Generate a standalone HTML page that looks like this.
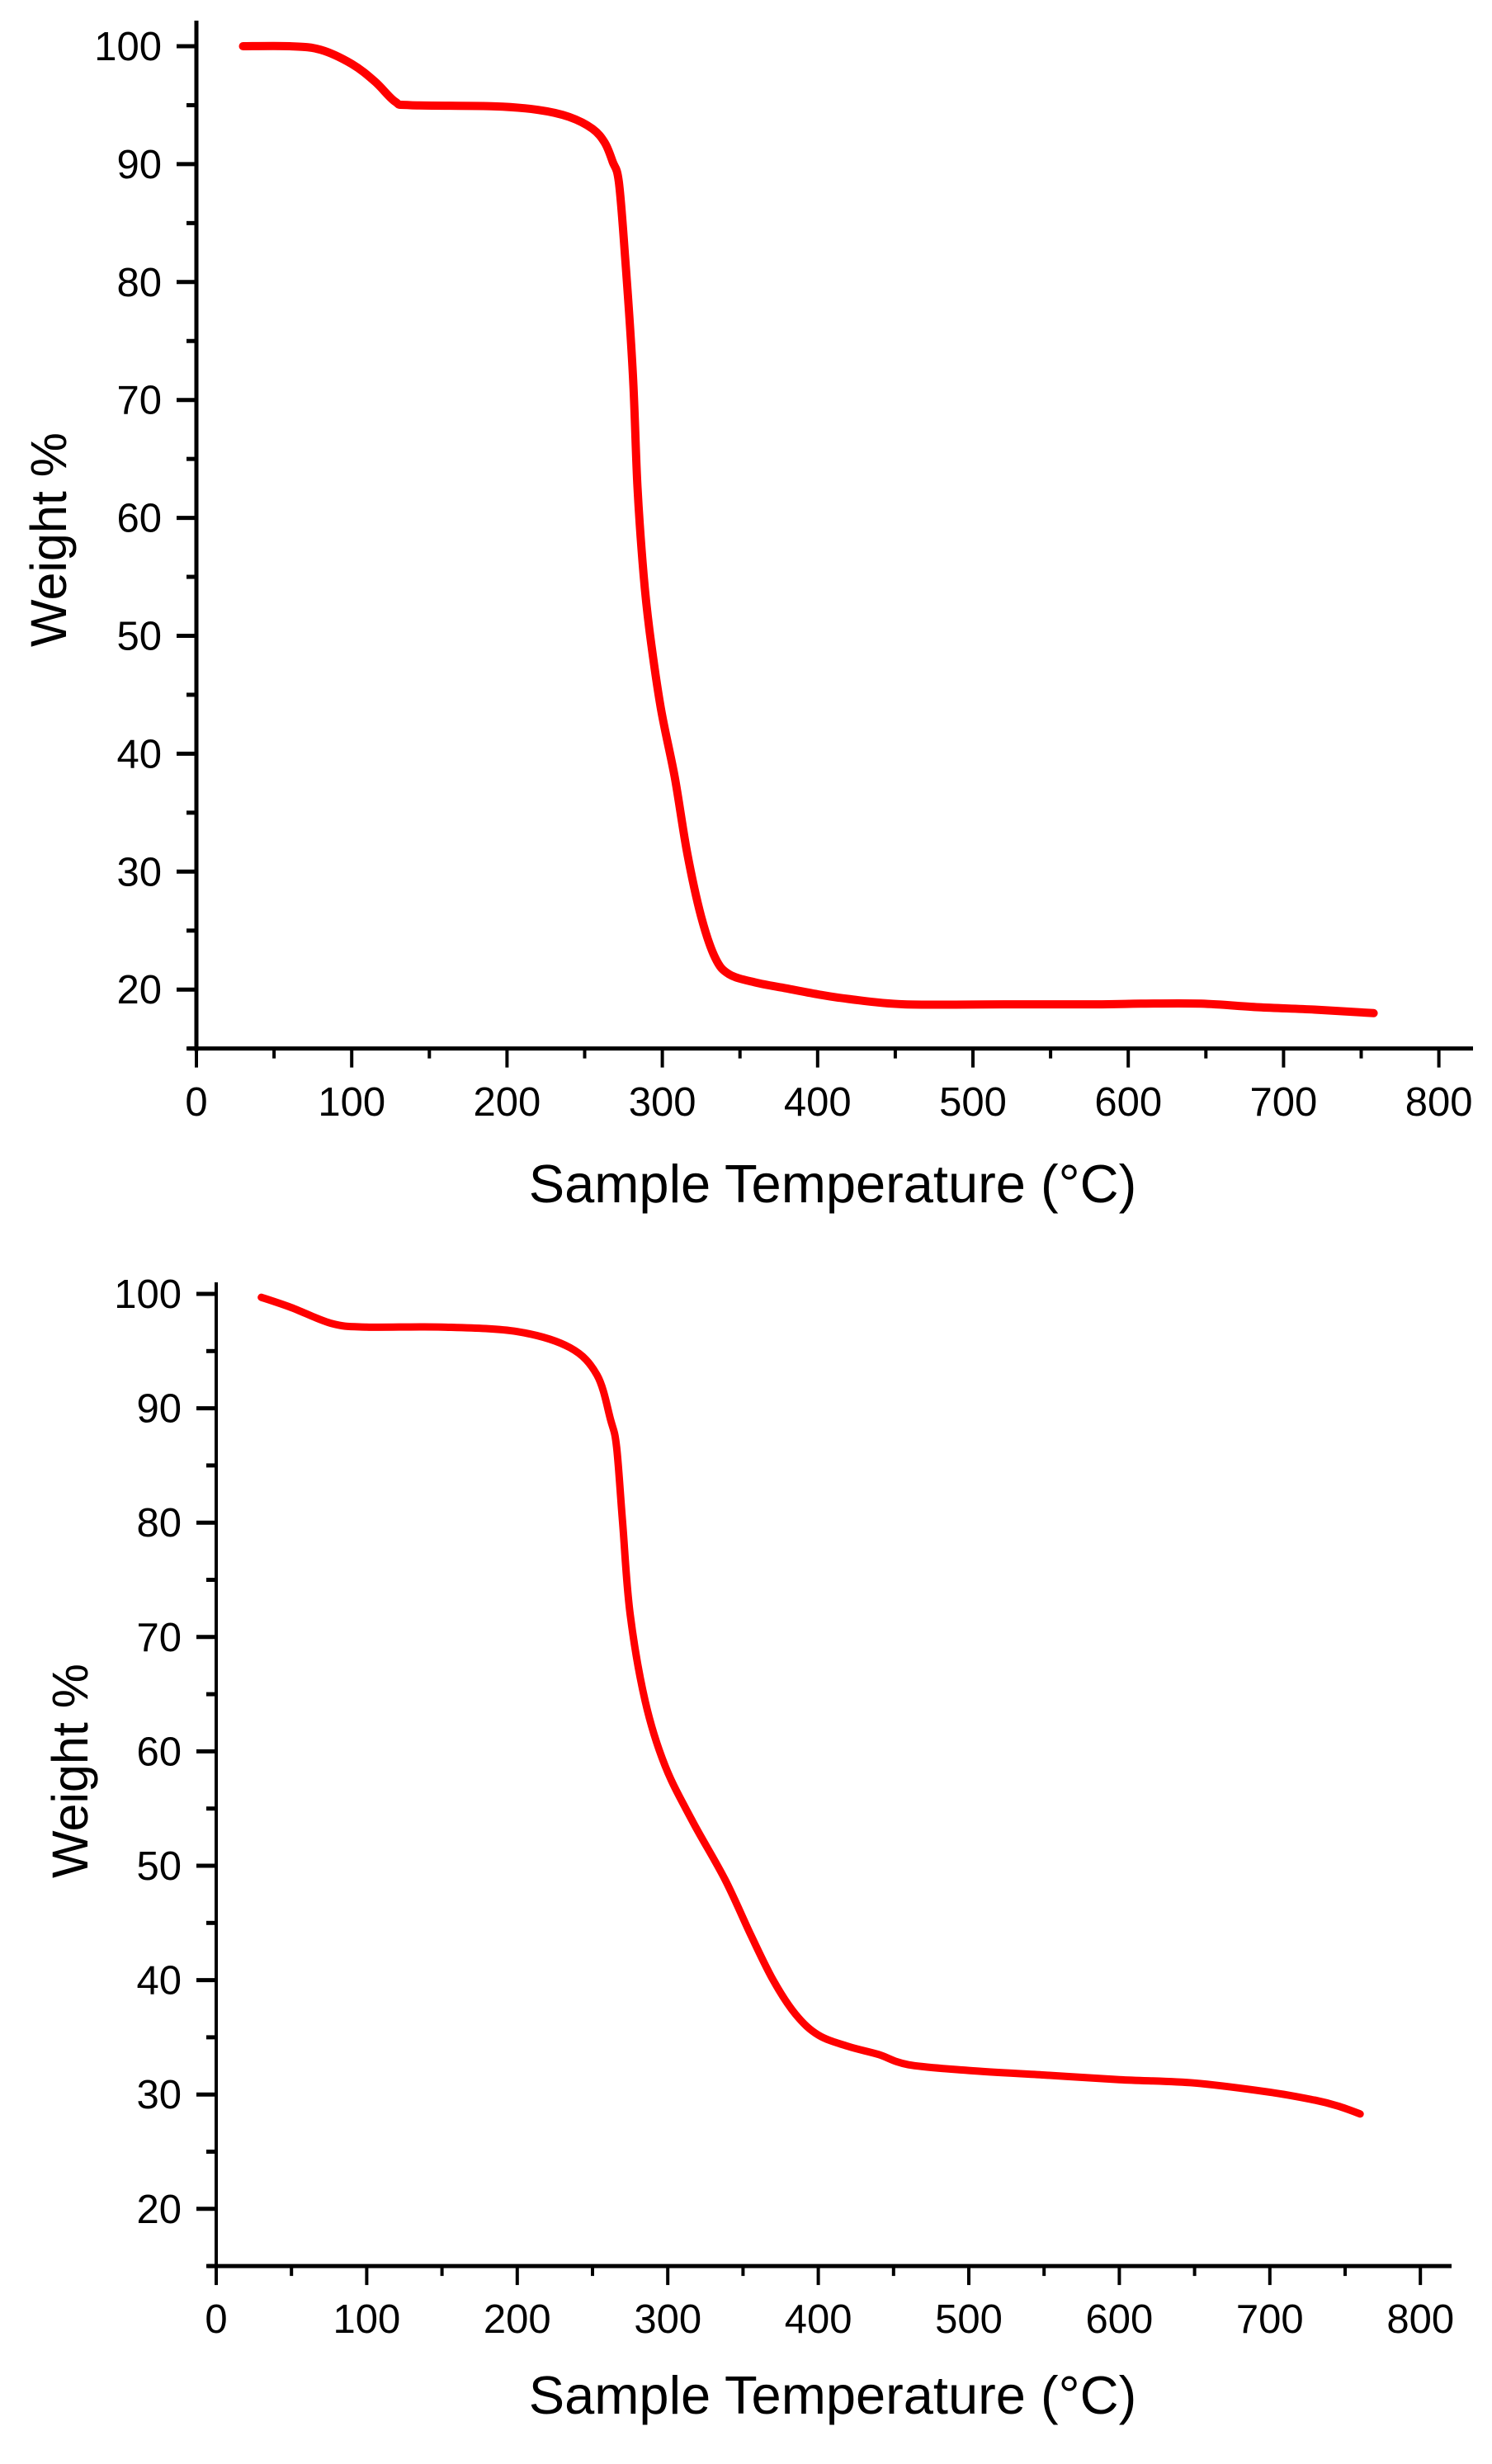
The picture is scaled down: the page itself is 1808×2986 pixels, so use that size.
<!DOCTYPE html>
<html><head><meta charset="utf-8"><style>
html,body{margin:0;padding:0;background:#fff;}
svg{display:block;font-family:"Liberation Sans",Arial,sans-serif;}
</style></head><body>
<svg id="svg" width="1808" height="2986" viewBox="0 0 1808 2986" xmlns="http://www.w3.org/2000/svg">
<rect width="1808" height="2986" fill="#fff"/>
<g id="c1"></g>
<g id="c2"></g>
</svg>
<script>
const xTicks = [0,100,200,300,400,500,600,700,800];
const yTicks = [20,30,40,50,60,70,80,90,100];
const topTemp = [30,60,80,100,115,128,138,192,220,240,255,263,268,272,276,281,284,288,292,299,308,316,325,334,343,360,380,400,420,456,520,583,608,647,684,720,758];
const topWeight = [100,100,99.7,98.5,97,95.3,95,94.9,94.6,94.0,93.0,91.8,90.2,88.5,82.2,72.3,62.6,55.1,50.2,43.9,38,31.6,26.2,22.7,21.3,20.6,20.1,19.6,19.2,18.75,18.75,18.75,18.8,18.8,18.5,18.3,18.0];
const botTemp = [30,50,77,100,150,200,235,253,262,266,270,275,285,298,316,338,355,370,385,400,420,440,460,500,550,600,650,700,730,745,760];
const botWeight = [99.7,98.8,97.4,97.1,97.1,96.7,95.3,92.9,89,86.6,80,72,64.4,58.8,54,48.8,44,40,37,35.2,34.2,33.5,32.6,32.1,31.7,31.3,31,30.2,29.5,29,28.3];

const NS="http://www.w3.org/2000/svg";
function mk(parent,tag,attrs){const e=document.createElementNS(NS,tag);for(const k in attrs)e.setAttribute(k,attrs[k]);parent.appendChild(e);return e;}

function smoothPath(pts){
  let d='M'+pts[0][0].toFixed(1)+','+pts[0][1].toFixed(1);
  for(let i=0;i<pts.length-1;i++){
    const p0=pts[Math.max(0,i-1)],p1=pts[i],p2=pts[i+1],p3=pts[Math.min(pts.length-1,i+2)];
    const c1x=p1[0]+(p2[0]-p0[0])/6,c1y=p1[1]+(p2[1]-p0[1])/6;
    const c2x=p2[0]-(p3[0]-p1[0])/6,c2y=p2[1]-(p3[1]-p1[1])/6;
    d+=` C${c1x.toFixed(1)},${c1y.toFixed(1)} ${c2x.toFixed(1)},${c2y.toFixed(1)} ${p2[0].toFixed(1)},${p2[1].toFixed(1)}`;
  }
  return d;
}

function drawChart(g,cfg,temps,weights){
  const sx=t=>cfg.x0+t*cfg.px100/100;
  const sy=v=>cfg.y100+(100-v)*cfg.py10/10;
  const yBot=sy(15), yTop=cfg.yTop;
  let e=mk(g,'line',{x1:sx(0),y1:yTop,x2:sx(0),y2:yBot+3,stroke:'#000','stroke-width':cfg.yw});
  
  
  e=mk(g,'line',{x1:sx(0)-10,y1:yBot,x2:cfg.xEnd,y2:yBot,stroke:'#000','stroke-width':5});
  
  
  yTicks.forEach(v=>{
    let t=mk(g,'line',{x1:sx(0)-24,y1:sy(v),x2:sx(0),y2:sy(v),stroke:'#000','stroke-width':5});
    
    
    let m=mk(g,'line',{x1:sx(0)-12,y1:sy(v-5),x2:sx(0),y2:sy(v-5),stroke:'#000','stroke-width':5});
    
    
    let l=mk(g,'text',{x:cfg.ylabR,y:sy(v)+17,'text-anchor':'end','font-size':49});
    l.textContent=v;
    
    
  });
  xTicks.forEach(v=>{
    let t=mk(g,'line',{x1:sx(v),y1:yBot,x2:sx(v),y2:yBot+23,stroke:'#000','stroke-width':4});
    
    
    if(v<800){
      let m=mk(g,'line',{x1:sx(v+50),y1:yBot,x2:sx(v+50),y2:yBot+12,stroke:'#000','stroke-width':4});
      
      
    }
    let l=mk(g,'text',{x:sx(v),y:cfg.xlabY,'text-anchor':'middle','font-size':49});
    l.textContent=v;
    
    
  });
  let xt=mk(g,'text',{x:1009,y:cfg.xtitleY,'text-anchor':'middle','font-size':65});
  xt.textContent='Sample Temperature (°C)';
  
  
  let yt=mk(g,'text',{x:0,y:0,'text-anchor':'middle','font-size':61,transform:`translate(${cfg.ytX},${cfg.ytY}) rotate(-90)`});
  yt.textContent='Weight %';
  
  
  const pts=temps.map((t,i)=>[sx(t),sy(weights[i])]);
  let p=mk(g,'path',{d:smoothPath(pts),fill:'none',stroke:'#ff0000','stroke-width':cfg.lw,'stroke-linejoin':'round','stroke-linecap':'round'});
  
  
}
drawChart(document.getElementById('c1'),{x0:238,px100:188.2,y100:56,py10:142.9,yTop:25,xEnd:1785,yw:5,ylabR:196,xlabY:1352,xtitleY:1457,ytX:80,ytY:654,lw:10},topTemp,topWeight);
drawChart(document.getElementById('c2'),{x0:262,px100:182.4,y100:1568,py10:138.6,yTop:1554,xEnd:1759,yw:4,ylabR:220,xlabY:2827,xtitleY:2925,ytX:106,ytY:2146,lw:9},botTemp,botWeight);
</script>
</body></html>
